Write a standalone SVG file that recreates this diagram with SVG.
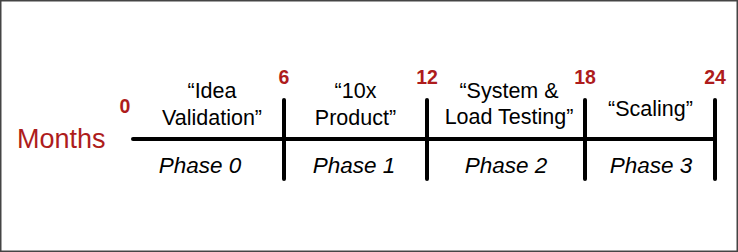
<svg xmlns="http://www.w3.org/2000/svg" width="738" height="252" viewBox="0 0 738 252">
  <style>
    .line { stroke: #000; stroke-width: 4; stroke-linecap: round; fill: none; }
    .num { font-family: "Liberation Sans", Arial, sans-serif; font-weight: bold; font-size: 19.5px; fill: #AE1C1C; text-anchor: middle; }
    .title { font-family: "Liberation Sans", Arial, sans-serif; font-size: 21.5px; fill: #000; text-anchor: middle; }
    .phase { font-family: "Liberation Sans", Arial, sans-serif; font-style: italic; font-size: 22.5px; fill: #000; text-anchor: middle; }
    .months { font-family: "Liberation Sans", Arial, sans-serif; font-size: 27px; fill: #AE1C1C; }
  </style>
  <rect x="0.75" y="0.75" width="736.5" height="250.5" fill="#fff" stroke="#444" stroke-width="1.5"/>

  <g id="connectors">
    <line class="line" x1="133" y1="139" x2="715" y2="139"/>
    <line class="line" x1="284" y1="100" x2="284" y2="179"/>
    <line class="line" x1="427" y1="100" x2="427" y2="179"/>
    <line class="line" x1="585" y1="100" x2="585" y2="179"/>
    <line class="line" x1="715" y1="100" x2="715" y2="179"/>
  </g>

  <g id="axis-label">
    <text class="months" x="17" y="148">Months</text>
  </g>

  <g id="month-markers">
    <text class="num" x="125" y="113">0</text>
    <text class="num" x="284" y="84">6</text>
    <text class="num" x="427" y="84">12</text>
    <text class="num" x="585" y="84">18</text>
    <text class="num" x="715" y="84">24</text>
  </g>

  <g id="phase0">
    <text class="title" x="212" y="98">“Idea</text>
    <text class="title" x="212" y="125">Validation”</text>
    <text class="phase" x="200" y="173">Phase 0</text>
  </g>
  <g id="phase1">
    <text class="title" x="355.5" y="98">“10x</text>
    <text class="title" x="355.5" y="125">Product”</text>
    <text class="phase" x="354" y="173">Phase 1</text>
  </g>
  <g id="phase2">
    <text class="title" x="509" y="98">“System &amp;</text>
    <text class="title" x="509" y="124">Load Testing”</text>
    <text class="phase" x="506" y="173">Phase 2</text>
  </g>
  <g id="phase3">
    <text class="title" x="650.5" y="116">“Scaling”</text>
    <text class="phase" x="651" y="173">Phase 3</text>
  </g>
</svg>
